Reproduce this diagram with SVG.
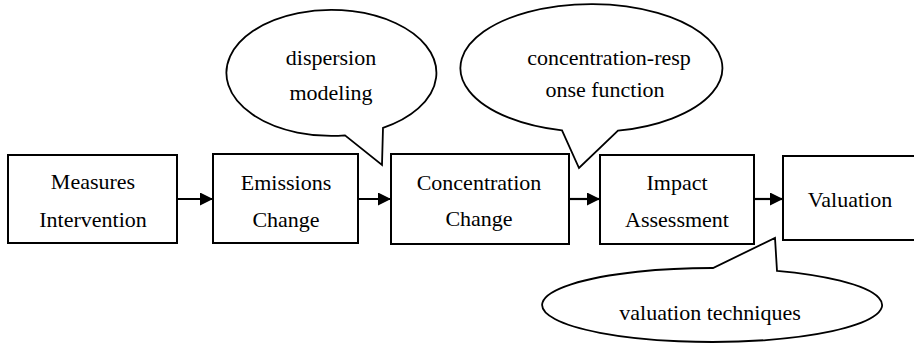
<svg xmlns="http://www.w3.org/2000/svg" width="914" height="343" viewBox="0 0 914 343">
<defs>
<marker id="ah" markerWidth="13" markerHeight="13" refX="13" refY="6.5" orient="auto" markerUnits="userSpaceOnUse">
<path d="M0,0 L13,6.5 L0,13 Z" fill="#000"/>
</marker>
</defs>
<rect width="914" height="343" fill="#fff"/>
<g id="connectors" stroke="#000" stroke-width="2.2" fill="none">
<line x1="177" y1="199" x2="213" y2="199" marker-end="url(#ah)"/>
<line x1="358" y1="199" x2="391" y2="199" marker-end="url(#ah)"/>
<line x1="569" y1="199" x2="600" y2="199" marker-end="url(#ah)"/>
<line x1="754" y1="199" x2="783" y2="199" marker-end="url(#ah)"/>
</g>
<g id="measures">
<rect x="8" y="155" width="169" height="88" fill="#fff" stroke="#000" stroke-width="2"/>
<text x="93" y="189" font-family="Liberation Serif" font-size="22" text-anchor="middle">Measures</text>
<text x="93" y="227" font-family="Liberation Serif" font-size="22" text-anchor="middle">Intervention</text>
</g>
<g id="emissions">
<rect x="213" y="154" width="145" height="89" fill="#fff" stroke="#000" stroke-width="2"/>
<text x="286" y="190" font-family="Liberation Serif" font-size="22" text-anchor="middle">Emissions</text>
<text x="286" y="227" font-family="Liberation Serif" font-size="22" text-anchor="middle">Change</text>
</g>
<g id="concentration">
<rect x="391" y="154" width="178" height="90" fill="#fff" stroke="#000" stroke-width="2"/>
<text x="479" y="190" font-family="Liberation Serif" font-size="22" text-anchor="middle">Concentration</text>
<text x="479" y="226" font-family="Liberation Serif" font-size="22" text-anchor="middle">Change</text>
</g>
<g id="impact">
<rect x="600" y="155" width="154" height="89" fill="#fff" stroke="#000" stroke-width="2"/>
<text x="677" y="190" font-family="Liberation Serif" font-size="22" text-anchor="middle">Impact</text>
<text x="677" y="227" font-family="Liberation Serif" font-size="22" text-anchor="middle">Assessment</text>
</g>
<g id="valuation">
<rect x="783" y="156" width="136" height="84" fill="#fff" stroke="#000" stroke-width="2"/>
<text x="850" y="207" font-family="Liberation Serif" font-size="22" text-anchor="middle">Valuation</text>
</g>
<g id="callout-dispersion">
<path d="M345 135.4 A105 63 0 1 1 383 127.8 L382 165 Z" fill="#fff" stroke="#000" stroke-width="1.8"/>
<text x="331" y="65" font-family="Liberation Serif" font-size="22" text-anchor="middle">dispersion</text>
<text x="331" y="100" font-family="Liberation Serif" font-size="22" text-anchor="middle">modeling</text>
</g>
<g id="callout-crf">
<path d="M562 130.4 A131 64 0 1 1 618 130.7 L579 168 Z" fill="#fff" stroke="#000" stroke-width="1.8"/>
<text x="609" y="65" font-family="Liberation Serif" font-size="22" text-anchor="middle">concentration-resp</text>
<text x="605" y="97" font-family="Liberation Serif" font-size="22" text-anchor="middle">onse function</text>
</g>
<g id="callout-valuation">
<path d="M713 268 A170 37 0 1 0 777 270.8 L775 238 Z" fill="#fff" stroke="#000" stroke-width="1.8"/>
<text x="710" y="320" font-family="Liberation Serif" font-size="22" text-anchor="middle">valuation techniques</text>
</g>
</svg>
